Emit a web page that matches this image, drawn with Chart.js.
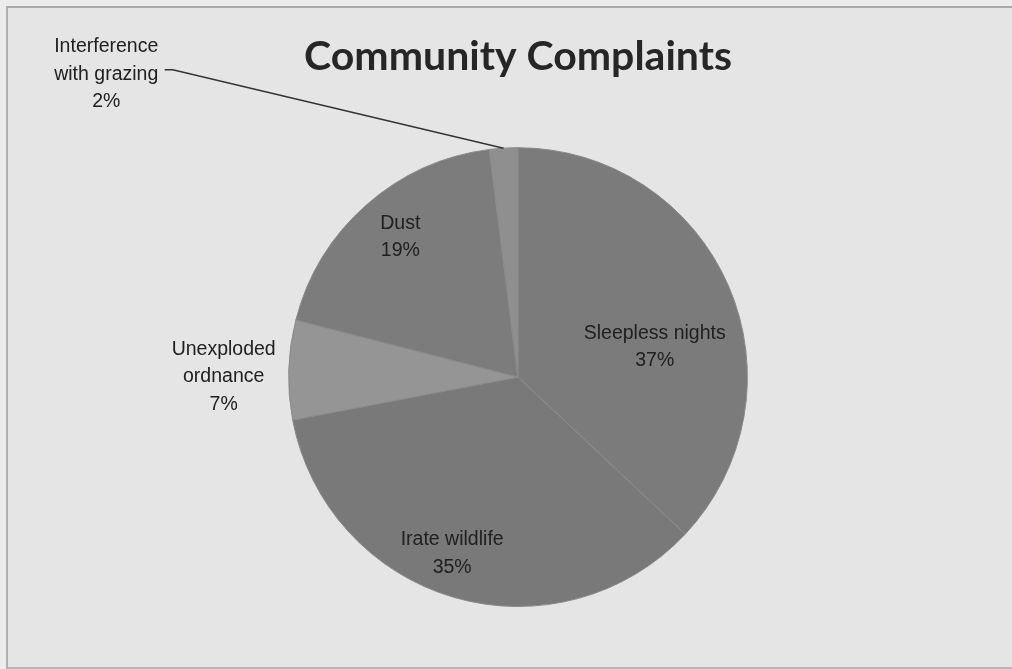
<!DOCTYPE html>
<html>
<head>
<meta charset="utf-8">
<title>Community Complaints</title>
<script src="https://cdn.jsdelivr.net/npm/chart.js@4.4.1/dist/chart.umd.min.js"></script>
<style>
    html, body { margin: 0; padding: 0; background: #ececec; }
    #frame {
        position: absolute; left: 6px; top: 6px;
        width: 1012px; height: 659px;
        border-top: 2px solid #a9a9a9; border-left: 2px solid #b0b0b0;
        border-bottom: 2px solid #b5b5b5;
        background: #e5e5e5;
    }
    #wrap { position: absolute; left: 0; top: 0; width: 1012px; height: 669px; }
</style>
</head>
<body>
<div id="frame"></div>
<div id="wrap"><canvas id="complaints-chart"></canvas></div>
<script>
// Complaint categories and their share (%)
const categories = ['Sleepless nights', 'Irate wildlife', 'Unexploded ordnance', 'Dust', 'Interference with grazing'];
const shares = [37, 35, 7, 19, 2];
const sliceColors = ['#7b7b7b', '#797979', '#959595', '#7c7c7c', '#8f8f8f'];

// label text lines per slice
const labelLines = [
    ['Sleepless nights', '37%'],
    ['Irate wildlife', '35%'],
    ['Unexploded', 'ordnance', '7%'],
    ['Dust', '19%'],
    ['Interference', 'with grazing', '2%']
];
// label centres, in pie radius units from the pie centre
const labelSpots = [[0.596, -0.13], [-0.287, 0.77], [-1.283, 0.0], [-0.513, -0.61], [-1.795, -1.32]];
// leader line bend point for the small slice (radius units)
const leaderBend = [-1.505, -1.34];
const leaderEnd = [-1.54, -1.34];

// draws the slice labels and the leader line
const sliceLabels = {
    id: 'sliceLabels',
    afterDatasetsDraw(chart) {
        const ctx = chart.ctx;
        const arcs = chart.getDatasetMeta(0).data;
        const cx = arcs[0].x, cy = arcs[0].y, r = arcs[0].outerRadius;
        ctx.save();
        ctx.font = '19.5px "Liberation Sans", Arial, sans-serif';
        ctx.fillStyle = '#202020';
        ctx.textAlign = 'center';
        ctx.textBaseline = 'middle';
        const lh = 27.5;
        labelLines.forEach((lines, i) => {
            const x = cx + labelSpots[i][0] * r;
            const y = cy + labelSpots[i][1] * r;
            const top = y - (lines.length - 1) * lh / 2;
            lines.forEach((t, k) => ctx.fillText(t, x, top + k * lh));
        });

        // leader from the grazing slice out to its label
        const a = arcs[4];
        const mid = (a.startAngle + a.endAngle) / 2;
        ctx.strokeStyle = '#333';
        ctx.lineWidth = 1.5;
        ctx.beginPath();
        ctx.moveTo(cx + Math.cos(mid) * r, cy + Math.sin(mid) * r);
        ctx.lineTo(cx + leaderBend[0] * r, cy + leaderBend[1] * r);
        ctx.lineTo(cx + leaderEnd[0] * r, cy + leaderEnd[1] * r);
        ctx.stroke();
        ctx.restore();
    }
};

new Chart(document.getElementById('complaints-chart'), {
    type: 'pie',
    data: {
        labels: categories,
        datasets: [{
            data: shares,
            backgroundColor: sliceColors,
            borderColor: '#8a8a8a',
            borderWidth: 1
        }]
    },
    options: {
        responsive: true,
        maintainAspectRatio: false,
        animation: false,
        layout: { padding: { top: 0, left: 288, right: 264, bottom: 62 } },
        plugins: {
            legend: { display: false },
            tooltip: { enabled: false },
            title: {
                display: true,
                text: 'Community Complaints',
                color: '#262626',
                font: { family: 'Lato, "Open Sans", sans-serif', size: 41, weight: 'bold', lineHeight: 1.2 },
                padding: { top: 32, bottom: 66 }
            }
        }
    },
    plugins: [sliceLabels]
});
</script>
</body>
</html>
